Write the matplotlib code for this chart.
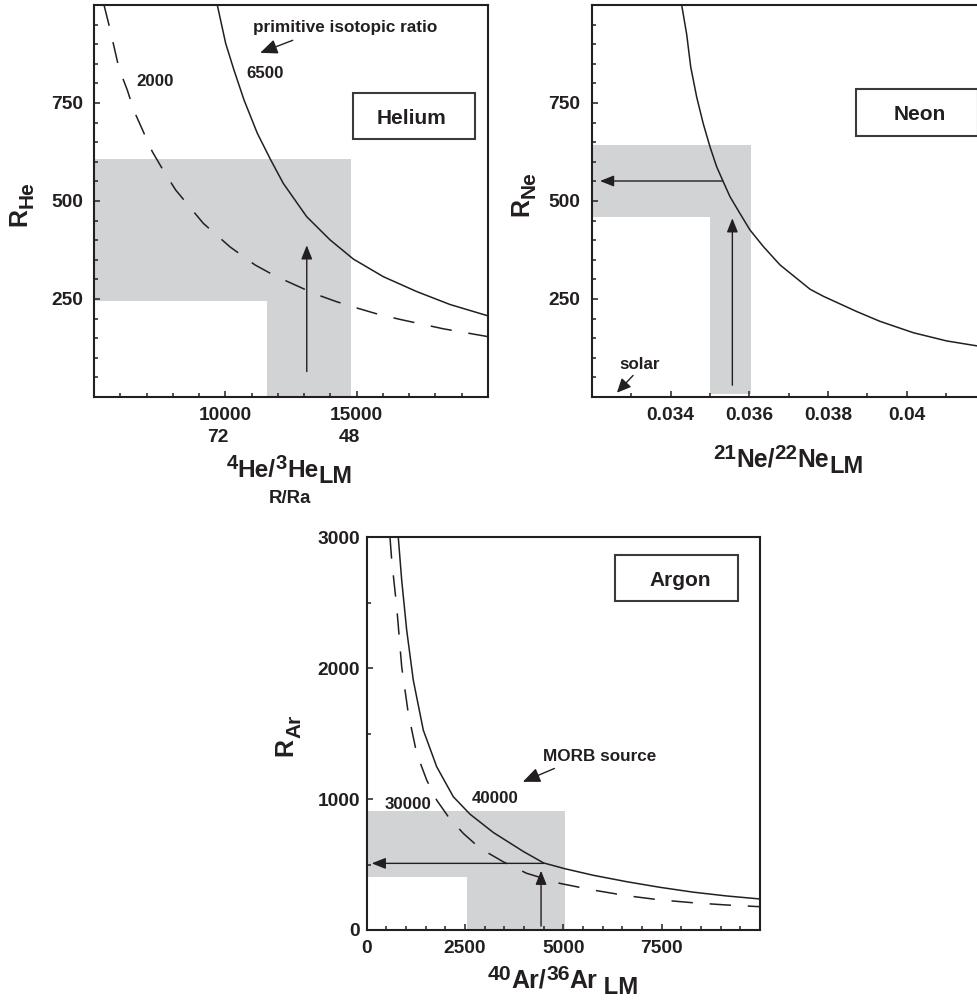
import matplotlib
matplotlib.use('Agg')
import matplotlib.pyplot as plt
import matplotlib.patches as mpatches
import matplotlib.transforms as mtrans
from matplotlib.ticker import FixedLocator, MultipleLocator, FixedFormatter

FONT = 'Liberation Sans'
INK = '#231f20'
GRAY = '#d1d3d4'
plt.rcParams['font.family'] = [FONT, 'DejaVu Sans']
plt.rcParams['font.weight'] = 'bold'

# ---------------- Helium data ----------------
he_xlim = (5000, 20000)
he_ylim = (0, 1000)
he_xticks = [10000, 15000]
he_xticklabels = ['10000', '15000']
he_rra_x = [9720, 14707]
he_rra_labels = ['72', '48']
he_yticks = [250, 500, 750]
he_yticklabels = ['250', '500', '750']
he_solid_x = [9694, 10013, 10329, 10710, 11216, 11726, 12206, 13097, 13984, 14871,
              16013, 17284, 18552, 20000]
he_solid_y = [1000, 902, 834, 758, 673, 605, 545, 460, 401, 352, 307, 269, 236, 207]
he_dash_x = [5381, 5571, 5761, 5952, 6268, 6523, 6903, 7219, 7664, 8110, 9161, 10177,
             11129, 11890, 12651, 13413, 14239, 15061, 15822, 16648, 17474, 18297, 20000]
he_dash_y = [1000, 949, 894, 838, 783, 730, 673, 626, 575, 528, 443, 383, 337, 309,
             286, 263, 243, 226, 211, 198, 186, 174, 154]
he_band_x = [5000, 11600, 14800]     # left, inner corner, right
he_band_y = [245, 608]               # lower edge of horizontal band, top
he_up_arrow = (13100, 65, 387)       # x, y tail, y head
he_prim_arrow = ((12566, 910), (11326, 878))

# ---------------- Neon data ----------------
ne_xlim = (0.032, 0.042)
ne_ylim = (0, 1000)
ne_xticks = [0.034, 0.036, 0.038, 0.040]
ne_xticklabels = ['0.034', '0.036', '0.038', '0.04']
ne_yticks = [250, 500, 750]
ne_yticklabels = ['250', '500', '750']
ne_x = [0.034284, 0.034411, 0.034513, 0.034665, 0.034832, 0.035003, 0.035173, 0.035340,
        0.035510, 0.035764, 0.036018, 0.036355, 0.036779, 0.037541, 0.037878, 0.038726,
        0.039317, 0.040162, 0.041010, 0.041805, 0.042]
ne_y = [1000, 925, 842, 765, 697, 638, 587, 549, 511, 468, 426, 384, 337, 275, 257, 218,
        193, 164, 143, 130, 127]
ne_band_x = [0.032, 0.03501, 0.03604]
ne_band_y = [460, 8, 642]            # lower edge of horizontal band, bottom of vertical band, top
ne_left_arrow = (551, 0.03532, 0.03221)   # y, x tail, x head
ne_up_arrow = (0.03557, 30, 456)
ne_solar_arrow = ((0.03305, 55), (0.03264, 11))

# ---------------- Argon data ----------------
ar_xlim = (0, 10000)
ar_ylim = (0, 3000)
ar_xticks = [0, 2500, 5000, 7500]
ar_xticklabels = ['0', '2500', '5000', '7500']
ar_yticks = [0, 1000, 2000, 3000]
ar_yticklabels = ['0', '1000', '2000', '3000']
ar_solid_x = [803, 890, 1017, 1185, 1439, 1780, 2202, 2626, 3219, 3982, 4500, 5042, 5761,
              6611, 7457, 8304, 9153, 10000]
ar_solid_y = [3000, 2672, 2290, 1908, 1527, 1247, 1018, 885, 745, 600, 512, 468, 418, 369,
              326, 289, 260, 237]
ar_dash_x = [592, 636, 763, 890, 1058, 1271, 1526, 1780, 2075, 2456, 2881, 3473, 4068,
             4915, 5761, 6611, 7457, 8304, 9153, 10000]
ar_dash_y = [3000, 2824, 2468, 2010, 1654, 1349, 1145, 992, 865, 738, 624, 521, 433, 356,
             305, 262, 230, 208, 191, 178]
ar_band_x = [0, 2560, 5030]
ar_band_y = [407, 908]
ar_left_arrow = (509, 4500, 127)
ar_up_arrow = (4433, 30, 453)
ar_morb_arrow = ((4772, 1234), (3970, 1132))

W_PX, H_PX = 978, 1002
fig = plt.figure(figsize=(W_PX / 100, H_PX / 100), dpi=100)
fig.patch.set_facecolor('white')


def px_axes(left, top, width, height):
    return fig.add_axes([left / W_PX, 1 - (top + height) / H_PX, width / W_PX, height / H_PX])


def style(ax, xlim, ylim, xt, xtl, xminor, yt, ytl, yminor, ypad):
    ax.set_xlim(xlim)
    ax.set_ylim(ylim)
    ax.xaxis.set_major_locator(FixedLocator(xt))
    ax.xaxis.set_major_formatter(FixedFormatter(xtl))
    ax.xaxis.set_minor_locator(MultipleLocator(xminor))
    ax.yaxis.set_major_locator(FixedLocator(yt))
    ax.yaxis.set_major_formatter(FixedFormatter(ytl))
    ax.yaxis.set_minor_locator(MultipleLocator(yminor))
    ax.tick_params(which='both', direction='in', top=False, right=False,
                   width=1.1, color=INK, labelcolor=INK)
    ax.tick_params(which='major', length=4.5)
    ax.tick_params(which='minor', length=2.8)
    ax.tick_params(axis='x', which='major', pad=7, labelsize=13.8)
    ax.tick_params(axis='y', which='major', pad=ypad, labelsize=13.8)
    for sp in ax.spines.values():
        sp.set_linewidth(1.5)
        sp.set_color(INK)


def arrow(ax, tail, head, lw=1.0, hl=0.6, hw=0.24):
    ax.annotate('', xy=head, xytext=tail,
                arrowprops=dict(arrowstyle=f'-|>,head_length={hl},head_width={hw}',
                                lw=lw, color=INK, shrinkA=0, shrinkB=0,
                                mutation_scale=14), zorder=5)


def label_box(ax, x0, x1, y0, y1, text, tx, ty):
    ax.add_patch(mpatches.Rectangle((x0, y0), x1 - x0, y1 - y0, transform=ax.transAxes,
                                    facecolor='white', edgecolor='#3a3a3a', lw=1.5,
                                    zorder=6, clip_on=False))
    ax.text(tx, ty, text, transform=ax.transAxes, ha='center', va='baseline',
            fontsize=15, color=INK, zorder=7)


renderer = fig.canvas.get_renderer()


def rich(pieces, x, y, rotation=0):
    """pieces: (text, size pt, raise px). x, y in image pixels (y down).
    horizontal: x = centre, y = baseline. vertical: x = baseline, y = centre."""
    widths = []
    for s, sz, _ in pieces:
        t = fig.text(0, 0, s, fontsize=sz)
        widths.append(t.get_window_extent(renderer).width)
        t.remove()
    total = sum(widths)
    pos = 0.0
    for (s, sz, sh), w in zip(pieces, widths):
        if rotation == 0:
            px = x - total / 2 + pos
            py = y - sh
            fig.text(px / W_PX, 1 - py / H_PX, s, fontsize=sz, ha='left', va='baseline',
                     color=INK)
        else:
            px = x - sh
            py = y + total / 2 - pos
            fig.text(px / W_PX, 1 - py / H_PX, s, fontsize=sz, ha='left', va='baseline',
                     rotation=90, rotation_mode='anchor', color=INK)
        pos += w


# ================= Helium panel =================
ax1 = px_axes(94, 5, 394, 392)
style(ax1, he_xlim, he_ylim, he_xticks, he_xticklabels, 1000,
      he_yticks, he_yticklabels, 50, 8)
ax1.fill_between(he_band_x[::2], he_band_y[0], he_band_y[1], color=GRAY, lw=0, zorder=1)
ax1.fill_between(he_band_x[1:], 0, he_band_y[1], color=GRAY, lw=0, zorder=1)
ax1.plot(he_solid_x, he_solid_y, color=INK, lw=1.1, zorder=3)
ax1.plot(he_dash_x, he_dash_y, color=INK, lw=1.1, ls=(0, (14, 11)), zorder=3)
arrow(ax1, (he_up_arrow[0], he_up_arrow[1]), (he_up_arrow[0], he_up_arrow[2]))
arrow(ax1, he_prim_arrow[0], he_prim_arrow[1], hl=0.75, hw=0.32)
ax1.text(14574, 930, 'primitive isotopic ratio', ha='center', va='baseline',
         fontsize=12.3, color=INK)
ax1.text(11498, 815, '6500', ha='center', va='baseline', fontsize=12.2, color=INK)
ax1.text(7311, 793, '2000', ha='center', va='baseline', fontsize=12.2, color=INK)
blend1 = mtrans.blended_transform_factory(ax1.transData, ax1.transAxes)
for xv, lab in zip(he_rra_x, he_rra_labels):
    ax1.text(xv, -0.1145, lab, transform=blend1, ha='center', va='baseline',
             fontsize=13.8, color=INK)
label_box(ax1, 0.657, 0.967, 0.658, 0.775, 'Helium', 0.807, 0.6964)

# ================= Neon panel =================
ax2 = px_axes(591.7, 5, 394, 392)
style(ax2, ne_xlim, ne_ylim, ne_xticks, ne_xticklabels, 0.001,
      ne_yticks, ne_yticklabels, 50, 8)
ax2.fill_between([ne_band_x[0], ne_band_x[2]], ne_band_y[0], ne_band_y[2],
                 color=GRAY, lw=0, zorder=1)
ax2.fill_between(ne_band_x[1:], ne_band_y[1], ne_band_y[2], color=GRAY, lw=0, zorder=1)
ax2.plot(ne_x, ne_y, color=INK, lw=1.1, zorder=3)
arrow(ax2, (ne_left_arrow[1], ne_left_arrow[0]), (ne_left_arrow[2], ne_left_arrow[0]))
arrow(ax2, (ne_up_arrow[0], ne_up_arrow[1]), (ne_up_arrow[0], ne_up_arrow[2]))
arrow(ax2, ne_solar_arrow[0], ne_solar_arrow[1], hl=0.6, hw=0.28)
ax2.text(0.033218, 72, 'solar', ha='center', va='baseline', fontsize=12.2, color=INK)
label_box(ax2, 0.671, 0.980, 0.667, 0.785, 'Neon', 0.833, 0.7066)

# ================= Argon panel =================
ax3 = px_axes(366.7, 537.3, 393.3, 392.7)
style(ax3, ar_xlim, ar_ylim, ar_xticks, ar_xticklabels, 500,
      ar_yticks, ar_yticklabels, 500, 5)
ax3.fill_between(ar_band_x[::2], ar_band_y[0], ar_band_y[1], color=GRAY, lw=0, zorder=1)
ax3.fill_between(ar_band_x[1:], 0, ar_band_y[1], color=GRAY, lw=0, zorder=1)
ax3.plot(ar_solid_x, ar_solid_y, color=INK, lw=1.1, zorder=3)
ax3.plot(ar_dash_x, ar_dash_y, color=INK, lw=1.1, ls=(0, (14, 11)), zorder=3)
arrow(ax3, (ar_left_arrow[1], ar_left_arrow[0]), (ar_left_arrow[2], ar_left_arrow[0]))
arrow(ax3, (ar_up_arrow[0], ar_up_arrow[1]), (ar_up_arrow[0], ar_up_arrow[2]))
arrow(ax3, ar_morb_arrow[0], ar_morb_arrow[1], hl=0.75, hw=0.32)
ax3.text(5914, 1290, 'MORB source', ha='center', va='baseline', fontsize=12.3, color=INK)
ax3.text(3262, 967, '40000', ha='center', va='baseline', fontsize=12.2, color=INK)
ax3.text(1058, 921, '30000', ha='center', va='baseline', fontsize=12.2, color=INK)
label_box(ax3, 0.631, 0.943, 0.838, 0.955, 'Argon', 0.797, 0.876)

# ================= Axis labels =================
rich([('4', 14.6, 7.3), ('He/', 17.6, 0), ('3', 14.6, 7.3), ('He', 17.6, 0),
      ('LM', 16.8, -6.7)], 289.5, 476.7)
fig.text(290 / W_PX, 1 - 503.3 / H_PX, 'R/Ra', ha='center', va='baseline',
         fontsize=13.4, color=INK)
rich([('21', 14.8, 7.3), ('Ne/', 17.8, 0), ('22', 14.8, 7.3), ('Ne', 17.8, 0),
      ('LM', 17.0, -6.7)], 788.3, 466.7)
rich([('40', 15.2, 7.5), ('Ar/', 18.0, 0), ('36', 15.2, 7.5), ('Ar', 18.0, 0),
      (' LM', 17.2, -7.0)], 563.3, 987.5)

rich([('R', 18, 0), ('He', 15, -7)], 26, 203.3, rotation=90)
rich([('R', 18, 0), ('Ne', 15, -7)], 528, 194, rotation=90)
rich([('R', 18, 0), ('Ar', 15, -7.5)], 292.5, 735.8, rotation=90)

fig.savefig('out.png', dpi=100, facecolor='white')
